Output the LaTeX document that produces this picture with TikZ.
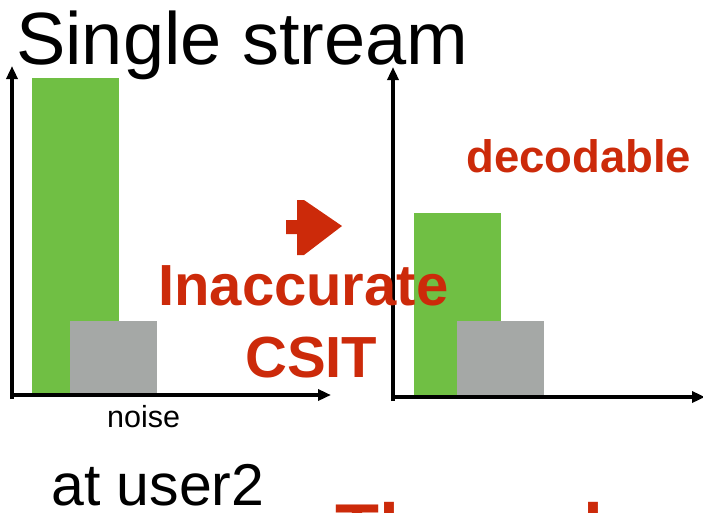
\documentclass[tikz,border=0pt]{standalone}
\usepackage{fontspec}
\setmainfont{Liberation Sans}
\usetikzlibrary{arrows.meta}
\definecolor{barGreen}{HTML}{70BF44}
\definecolor{barGray}{HTML}{A5A8A6}
\definecolor{hlRed}{HTML}{CC2A0A}
\tikzset{
  axis/.style={line width=3.6pt, -{Triangle[length=13pt,width=11pt]}},
  sigbar/.style={fill=barGreen, draw=none},
  noisebar/.style={fill=barGray, draw=none},
  plain/.style={inner sep=0pt, anchor=base west, text=black},
  redlabel/.style={inner sep=0pt, anchor=base west, text=hlRed, font=\bfseries},
}
\begin{document}
\begin{tikzpicture}[x=1pt, y=-1pt]
\clip (0,0) rectangle (703,512);
\useasboundingbox (0,0) rectangle (703,512);

% left panel: bars then axes
\fill[sigbar] (32,78) rectangle (119,396);
\fill[noisebar] (70,321) rectangle (157,396);
\coordinate (lo) at (12,395);
\coordinate (ly) at (12,66);
\coordinate (lx) at (331,395);
\coordinate (lc) at (12,399);
\draw[axis] (lc) -- (ly);
\draw[axis] ([xshift=-1.8pt]lo) -- (lx);

% right panel
\fill[sigbar] (414,213) rectangle (501,398);
\fill[noisebar] (457,321) rectangle (544,398);
\coordinate (ro) at (393,397);
\coordinate (ry) at (393,67);
\coordinate (rx) at (705,397);
\coordinate (rc) at (393,401);
\draw[axis] (rc) -- (ry);
\draw[axis] ([xshift=-1.8pt]ro) -- (rx);

% transition arrow between the panels
\fill[hlRed] (286,220) -- (297,220) -- (297,200) -- (304,200) -- (342,226)
  -- (304,255) -- (297,255) -- (297,234) -- (286,234) -- cycle;

% texts
\node[plain, font=\fontsize{74}{80}\selectfont] (title) at (16,64) {Single stream};
\node[plain, font=\fontsize{30.5}{34}\selectfont] (noise) at (107,427) {noise};
\node[plain, font=\fontsize{59}{64}\selectfont] (user) at (51,505) {at user2};
\node[redlabel, font=\fontsize{45.5}{50}\selectfont\bfseries] (dec) at (466,172) {decodable};
\node[redlabel, font=\fontsize{58}{62}\selectfont\bfseries] (inacc) at (158,305) {Inaccurate};
\node[redlabel, font=\fontsize{58}{62}\selectfont\bfseries] (csit) at (245,377) {CSIT};
\node[redlabel, font=\fontsize{72}{78}\selectfont\bfseries] (thr) at (335,554) {Throughput};
\end{tikzpicture}
\end{document}
